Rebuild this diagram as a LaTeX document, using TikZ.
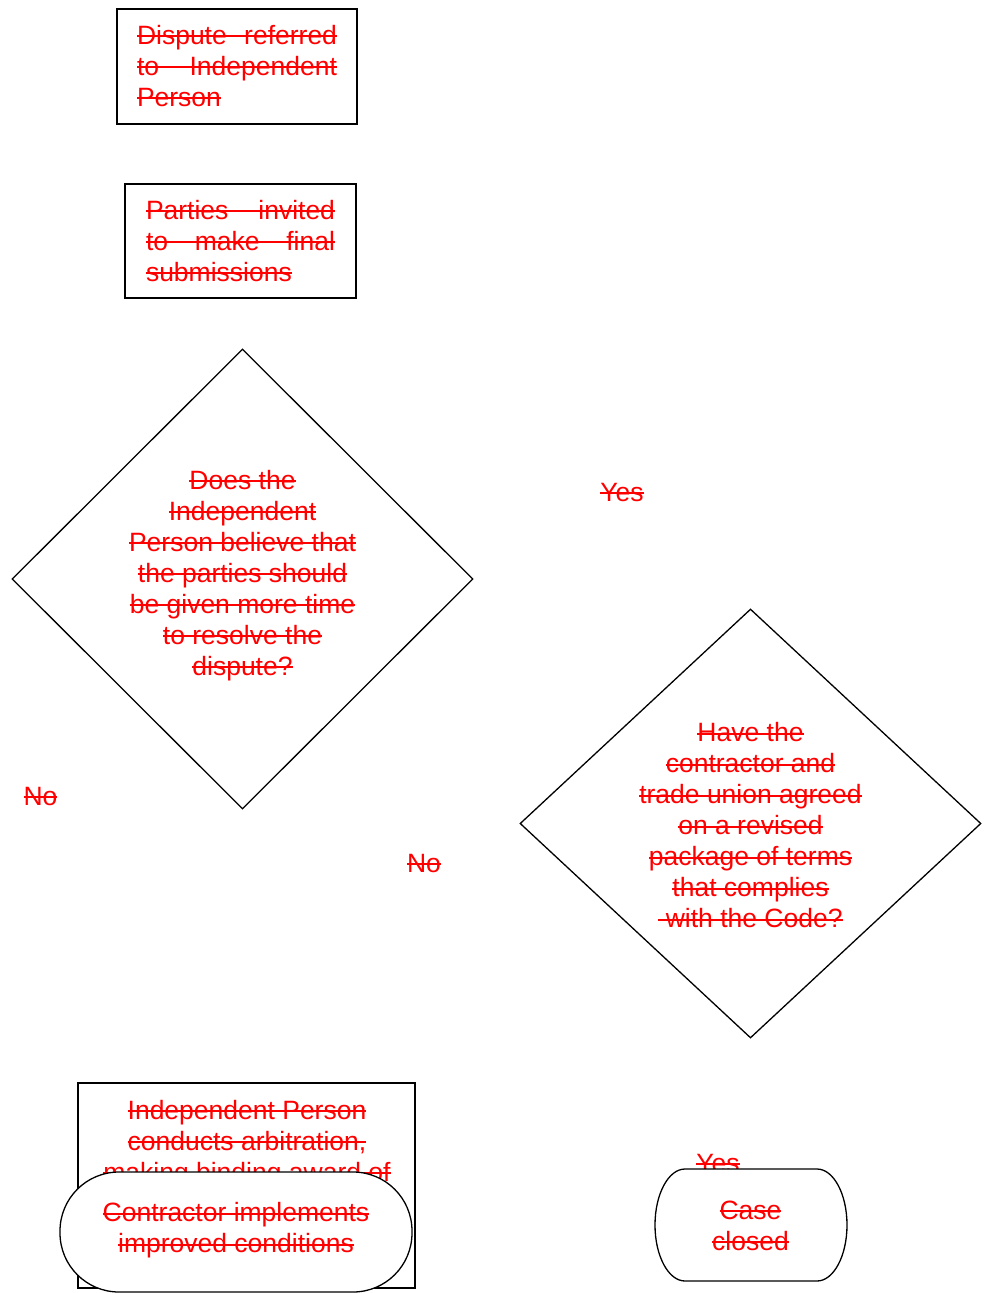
\documentclass[tikz,border=0pt]{standalone}
\usepackage{fontspec}
\setmainfont{Liberation Sans}
\usetikzlibrary{shapes.geometric}
% struck-through line of text
\newcommand\so[1]{\sbox0{#1}\rlap{\rule[7pt]{\wd0}{2pt}}\usebox0\strut}
% justified struck-through line of given width
\newcommand\soj[2]{\rlap{\rule[7pt]{#1}{2pt}}\makebox[#1][s]{#2}\strut}
\tikzset{
  lbl/.style={text=red, inner sep=0pt, align=center, font=\fontsize{26.5pt}{31pt}\selectfont},
  lbll/.style={lbl, align=left},
  shp/.style={draw=black, line width=1.3pt, inner sep=0pt},
}
\begin{document}
\begin{tikzpicture}[x=1pt,y=-1pt]
\useasboundingbox[fill=white] (0,0) rectangle (986,1293);

% Dispute referred
\node[shp, minimum width=240pt, minimum height=115pt] (b1) at (237,66.5) {};
\node[lbll] (t1) at (237,69) {\soj{200pt}{Dispute referred}\\\soj{200pt}{to Independent}\\\so{Person}};

% Parties invited
\node[shp, minimum width=231pt, minimum height=114pt] (b2) at (240.5,241) {};
\node[lbll] (t2) at (240.5,244) {\soj{189pt}{Parties invited}\\\soj{189pt}{to make final}\\\so{submissions}};

% Decision 1
\node[shp, diamond, minimum width=461pt, minimum height=460pt] (d1) at (242.5,579) {};
\node[lbl] (t3) at (242.5,576) {\so{Does the}\\\so{Independent}\\\so{Person believe that}\\\so{the parties should}\\\so{be given more time}\\\so{to resolve the}\\\so{dispute?}};

% Decision 2
\node[shp, diamond, minimum width=461pt, minimum height=429pt] (d2) at (750.5,823.5) {};
\node[lbl] (t4) at (750.5,828.5) {\so{Have the}\\\so{contractor and}\\\so{trade union agreed}\\\so{on a revised}\\\so{package of terms}\\\so{that complies}\\\so{ with the Code?}};

% branch labels
\node[lbl] (yes1) at (622,495) {\so{Yes}};
\node[lbl] (no1) at (40.5,799) {\so{No}};
\node[lbl] (no2) at (424,866) {\so{No}};
\node[lbl] (yes2) at (718,1166) {\so{Yes}};

% Arbitration box
\node[shp, minimum width=337pt, minimum height=205pt] (b3) at (246.5,1185.5) {};
\node[lbl] (t5) at (247,1144) {\so{Independent Person}\\\so{conducts arbitration,}\\\so{making binding award of}};

% Contractor implements
\node[shp, fill=white, rounded corners=59pt, minimum width=352pt, minimum height=120pt] (s1) at (236,1232) {};
\node[lbl] (t6) at (236,1231) {\so{Contractor implements}\\\so{improved conditions}};

% Case closed
\coordinate (cc) at (751,1225);
\draw[line width=1.3pt, fill=white] ([xshift=-66pt,yshift=-56pt]cc) -- ([xshift=66pt,yshift=-56pt]cc)
  arc[start angle=90, end angle=-90, x radius=30pt, y radius=-56pt]
  -- ([xshift=-66pt,yshift=56pt]cc)
  arc[start angle=270, end angle=90, x radius=30pt, y radius=-56pt] -- cycle;
\node[lbl] (t7) at (750.5,1228.5) {\so{Case}\\\so{closed}};
\end{tikzpicture}
\end{document}
